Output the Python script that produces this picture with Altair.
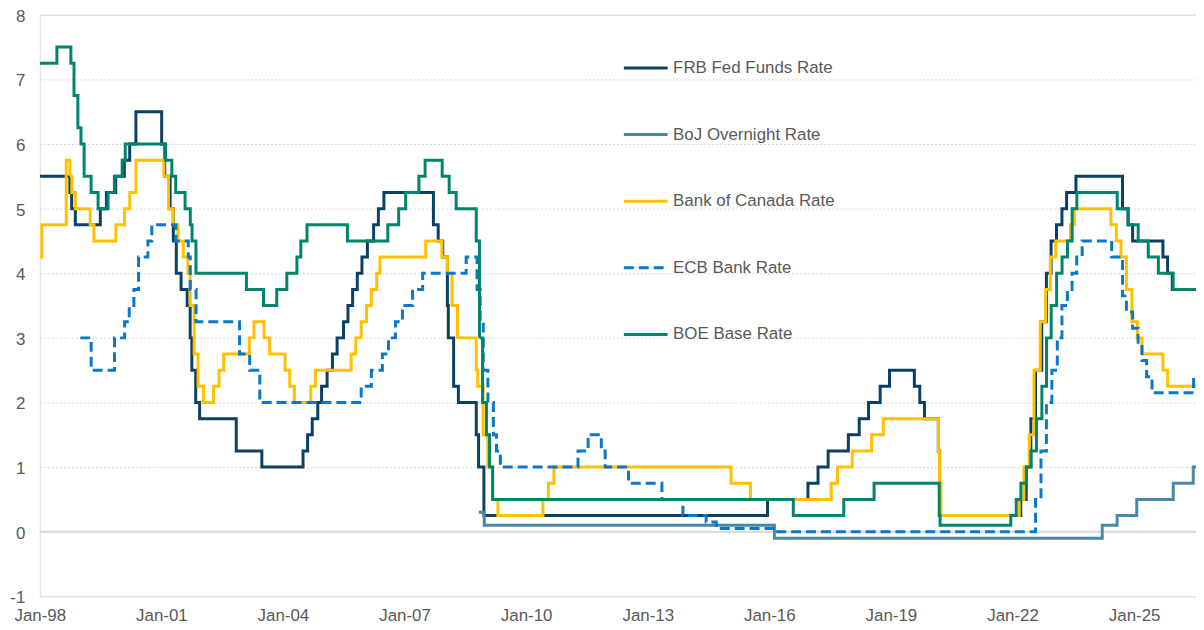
import altair as alt
import pandas as pd

SERIES = ["FRB Fed Funds Rate", "BoJ Overnight Rate", "Bank of Canada Rate",
          "ECB Bank Rate", "BOE Base Rate"]
COLORS = ["#0B3F63", "#4A89A6", "#FFC000", "#0A78C8", "#00846B"]
DASHES = [[1, 0], [1, 0], [1, 0], [10, 5], [1, 0]]

END = "2026-07-12"

frb_dates = ["1998-01-01", "1998-09-29", "1998-10-15", "1998-11-17", "1999-06-30", "1999-08-24",
             "1999-11-16", "2000-02-02", "2000-03-21", "2000-05-16", "2001-01-03", "2001-01-31",
             "2001-03-20", "2001-04-18", "2001-05-15", "2001-06-27", "2001-08-21", "2001-09-17",
             "2001-10-02", "2001-11-06", "2001-12-11", "2002-11-06", "2003-06-25", "2004-06-30",
             "2004-08-10", "2004-09-21", "2004-11-10", "2004-12-14", "2005-02-02", "2005-03-22",
             "2005-05-03", "2005-06-30", "2005-08-09", "2005-09-20", "2005-11-01", "2005-12-13",
             "2006-01-31", "2006-03-28", "2006-05-10", "2006-06-29", "2007-09-18", "2007-10-31",
             "2007-12-11", "2008-01-22", "2008-01-30", "2008-03-18", "2008-04-30", "2008-10-08",
             "2008-10-29", "2008-12-16", "2015-12-16", "2016-12-14", "2017-03-15", "2017-06-14",
             "2017-12-13", "2018-03-21", "2018-06-13", "2018-09-26", "2018-12-19", "2019-07-31",
             "2019-09-18", "2019-10-30", "2020-03-03", "2020-03-15", "2022-03-16", "2022-05-04",
             "2022-06-15", "2022-07-27", "2022-09-21", "2022-11-02", "2022-12-14", "2023-02-01",
             "2023-03-22", "2023-05-03", "2023-07-26", "2024-09-18", "2024-11-07", "2024-12-18",
             "2025-09-17", "2025-10-29", "2025-12-10", END]
frb_values = [5.5, 5.25, 5.0, 4.75, 5.0, 5.25, 5.5, 5.75, 6.0, 6.5, 6.0, 5.5,
              5.0, 4.5, 4.0, 3.75, 3.5, 3.0, 2.5, 2.0, 1.75, 1.25, 1.0, 1.25,
              1.5, 1.75, 2.0, 2.25, 2.5, 2.75, 3.0, 3.25, 3.5, 3.75, 4.0, 4.25,
              4.5, 4.75, 5.0, 5.25, 4.75, 4.5, 4.25, 3.5, 3.0, 2.25, 2.0, 1.5,
              1.0, 0.25, 0.5, 0.75, 1.0, 1.25, 1.5, 1.75, 2.0, 2.25, 2.5, 2.25,
              2.0, 1.75, 1.25, 0.25, 0.5, 1.0, 1.75, 2.5, 3.25, 4.0, 4.5, 4.75,
              5.0, 5.25, 5.5, 5.0, 4.75, 4.5, 4.25, 4.0, 3.75, 3.75]

boj_dates = ["2008-10-31", "2008-12-19", "2016-02-16", "2024-03-19", "2024-07-31",
             "2025-01-24", "2025-12-19", "2026-06-17", END]
boj_values = [0.3, 0.1, -0.1, 0.1, 0.25, 0.5, 0.75, 1.0, 1.0]

boc_dates = ["1998-01-01", "1998-01-20", "1998-08-27", "1998-09-29", "1998-10-16", "1998-11-17",
             "1999-03-31", "1999-05-04", "1999-11-17", "2000-02-03", "2000-03-22", "2000-05-17",
             "2001-01-23", "2001-03-06", "2001-04-17", "2001-05-29", "2001-07-17", "2001-08-28",
             "2001-09-17", "2001-10-23", "2001-11-27", "2002-01-15", "2002-04-16", "2002-06-04",
             "2002-07-16", "2003-03-04", "2003-04-15", "2003-07-15", "2003-09-03", "2004-01-20",
             "2004-03-02", "2004-04-13", "2004-09-08", "2004-10-19", "2005-09-07", "2005-10-18",
             "2005-12-06", "2006-01-24", "2006-03-07", "2006-04-25", "2006-05-24", "2007-07-10",
             "2007-12-04", "2008-01-22", "2008-03-04", "2008-04-22", "2008-10-08", "2008-10-21",
             "2008-12-09", "2009-01-20", "2009-03-03", "2009-04-21", "2010-06-01", "2010-07-20",
             "2010-09-08", "2015-01-21", "2015-07-15", "2017-07-12", "2017-09-06", "2018-01-17",
             "2018-07-11", "2018-10-24", "2020-03-04", "2020-03-13", "2020-03-27", "2022-03-02",
             "2022-04-13", "2022-06-01", "2022-07-13", "2022-09-07", "2022-10-26", "2022-12-07",
             "2023-01-25", "2023-06-07", "2023-07-12", "2024-06-05", "2024-07-24", "2024-09-04",
             "2024-10-23", "2024-12-11", "2025-01-29", "2025-03-12", "2025-09-17", "2025-10-29", END]
boc_values = [4.25, 4.75, 5.75, 5.5, 5.25, 5.0, 4.75, 4.5, 4.75, 5.0, 5.25, 5.75,
              5.5, 5.0, 4.75, 4.5, 4.25, 4.0, 3.5, 2.75, 2.25, 2.0, 2.25, 2.5,
              2.75, 3.0, 3.25, 3.0, 2.75, 2.5, 2.25, 2.0, 2.25, 2.5, 2.75, 3.0,
              3.25, 3.5, 3.75, 4.0, 4.25, 4.5, 4.25, 4.0, 3.5, 3.0, 2.5, 2.25,
              1.5, 1.0, 0.5, 0.25, 0.5, 0.75, 1.0, 0.75, 0.5, 0.75, 1.0, 1.25,
              1.5, 1.75, 1.25, 0.75, 0.25, 0.5, 1.0, 1.5, 2.5, 3.25, 3.75, 4.25,
              4.5, 4.75, 5.0, 4.75, 4.5, 4.25, 3.75, 3.25, 3.0, 2.75, 2.5, 2.25, 2.25]

ecb_dates = ["1999-01-01", "1999-04-09", "1999-11-05", "2000-02-04", "2000-03-17", "2000-04-28",
             "2000-06-09", "2000-09-01", "2000-10-06", "2001-05-11", "2001-08-31", "2001-09-18",
             "2001-11-09", "2002-12-06", "2003-03-07", "2003-06-06", "2005-12-06", "2006-03-08",
             "2006-06-15", "2006-08-09", "2006-10-11", "2006-12-13", "2007-03-14", "2007-06-13",
             "2008-07-09", "2008-10-15", "2008-11-12", "2008-12-10", "2009-01-21", "2009-03-11",
             "2009-04-08", "2009-05-13", "2011-04-13", "2011-07-13", "2011-11-09", "2011-12-14",
             "2012-07-11", "2013-05-08", "2013-11-13", "2014-06-11", "2014-09-10", "2016-03-16",
             "2022-07-27", "2022-09-14", "2022-11-02", "2022-12-21", "2023-02-08", "2023-03-22",
             "2023-05-10", "2023-06-21", "2023-08-02", "2023-09-20", "2024-06-12", "2024-09-18",
             "2024-10-23", "2024-12-18", "2025-02-05", "2025-03-12", "2025-04-23", "2025-06-11",
             "2026-06-20", END]
ecb_values = [3.0, 2.5, 3.0, 3.25, 3.5, 3.75, 4.25, 4.5, 4.75, 4.5, 4.25, 3.75,
              3.25, 2.75, 2.5, 2.0, 2.25, 2.5, 2.75, 3.0, 3.25, 3.5, 3.75, 4.0,
              4.25, 3.75, 3.25, 2.5, 2.0, 1.5, 1.25, 1.0, 1.25, 1.5, 1.25, 1.0,
              0.75, 0.5, 0.25, 0.15, 0.05, 0.0, 0.5, 1.25, 2.0, 2.5, 3.0, 3.5,
              3.75, 4.0, 4.25, 4.5, 4.25, 3.65, 3.4, 3.15, 2.9, 2.65, 2.4, 2.15,
              2.4, 2.4]

boe_dates = ["1998-01-01", "1998-06-04", "1998-10-08", "1998-11-05", "1998-12-10", "1999-01-07",
             "1999-02-04", "1999-04-08", "1999-06-10", "1999-09-08", "1999-11-04", "2000-01-13",
             "2000-02-10", "2001-02-08", "2001-04-05", "2001-05-10", "2001-08-02", "2001-09-18",
             "2001-10-04", "2001-11-08", "2003-02-06", "2003-07-10", "2003-11-06", "2004-02-05",
             "2004-05-06", "2004-06-10", "2004-08-05", "2005-08-04", "2006-08-03", "2006-11-09",
             "2007-01-11", "2007-05-10", "2007-07-05", "2007-12-06", "2008-02-07", "2008-04-10",
             "2008-10-08", "2008-11-06", "2008-12-04", "2009-01-08", "2009-02-05", "2009-03-05",
             "2016-08-04", "2017-11-02", "2018-08-02", "2020-03-11", "2020-03-19", "2021-12-16",
             "2022-02-03", "2022-03-17", "2022-05-05", "2022-06-16", "2022-08-04", "2022-09-22",
             "2022-11-03", "2022-12-15", "2023-02-02", "2023-03-23", "2023-05-11", "2023-06-22",
             "2023-08-03", "2024-08-01", "2024-11-07", "2025-02-06", "2025-05-08", "2025-08-07",
             "2025-12-18", END]
boe_values = [7.25, 7.5, 7.25, 6.75, 6.25, 6.0, 5.5, 5.25, 5.0, 5.25, 5.5, 5.75,
              6.0, 5.75, 5.5, 5.25, 5.0, 4.75, 4.5, 4.0, 3.75, 3.5, 3.75, 4.0,
              4.25, 4.5, 4.75, 4.5, 4.75, 5.0, 5.25, 5.5, 5.75, 5.5, 5.25, 5.0,
              4.5, 3.0, 2.0, 1.5, 1.0, 0.5, 0.25, 0.5, 0.75, 0.25, 0.1, 0.25,
              0.5, 0.75, 1.0, 1.25, 1.75, 2.25, 3.0, 3.5, 4.0, 4.25, 4.5, 5.0,
              5.25, 5.0, 4.75, 4.5, 4.25, 4.0, 3.75, 3.75]

TICK_YEARS = list(range(1998, 2026, 3))
Y_TICKS = list(range(-1, 9))

all_data = [(SERIES[0], frb_dates, frb_values), (SERIES[1], boj_dates, boj_values),
            (SERIES[2], boc_dates, boc_values), (SERIES[3], ecb_dates, ecb_values),
            (SERIES[4], boe_dates, boe_values)]
frames = [pd.DataFrame({"date": d, "rate": v, "series": n}) for n, d, v in all_data]
df = pd.concat(frames, ignore_index=True)

FONT = "Liberation Sans"
GREY = "#595959"

x_enc = alt.X("date:T",
              scale=alt.Scale(domain=[alt.DateTime(year=1998, month=1, date=1),
                                      alt.DateTime(year=2026, month=7, date=12)]),
              axis=alt.Axis(values=[alt.DateTime(year=y, month=1, date=1) for y in TICK_YEARS],
                            format="%b-%y", labelFontSize=17, labelColor=GREY, labelFont=FONT,
                            ticks=False, domain=False, grid=False, labelPadding=11, title=None,
                            labelFlush=False, labelOverlap=False))
y_enc = alt.Y("rate:Q",
              scale=alt.Scale(domain=[-1, 8], nice=False, zero=False),
              axis=alt.Axis(values=Y_TICKS, labelExpr="'' + datum.value", labelFontSize=17,
                            labelColor=GREY, labelFont=FONT, ticks=False, domain=False,
                            grid=True, gridColor="#D9D9D9", gridDash=[2, 2], gridWidth=1,
                            labelPadding=15, labelOffset=1.5, labelFlush=False, title=None))
color_enc = alt.Color("series:N",
                      scale=alt.Scale(domain=SERIES, range=COLORS),
                      legend=alt.Legend(title=None, orient="none", legendX=586, legendY=30,
                                        symbolType="stroke", symbolSize=1936,
                                        symbolStrokeWidth=3, labelFontSize=17,
                                        labelColor=GREY, labelFont=FONT, rowPadding=35,
                                        labelOffset=4, labelLimit=0, padding=0, offset=0))
dash_enc = alt.StrokeDash("series:N", scale=alt.Scale(domain=SERIES, range=DASHES))

zero = alt.Chart(pd.DataFrame({"rate": [0.0]})).mark_rule(
    color="#D9D9D9", strokeWidth=2).encode(y=alt.Y("rate:Q"))

layers = [zero]
for name in SERIES:
    layers.append(
        alt.Chart(df).transform_filter(alt.datum.series == name)
        .mark_line(interpolate="step-after", strokeWidth=3, clip=True)
        .encode(x=x_enc, y=y_enc, color=color_enc, strokeDash=dash_enc)
    )

chart = alt.layer(*layers).properties(
    width=1163, height=585,
    padding={"left": 32, "top": 5, "right": 0, "bottom": 27},
    autosize=alt.AutoSizeParams(type="none"),
).configure_view(stroke=None).configure(background="white")

chart.save("out.html", embed_options={"renderer": "svg", "actions": False})
